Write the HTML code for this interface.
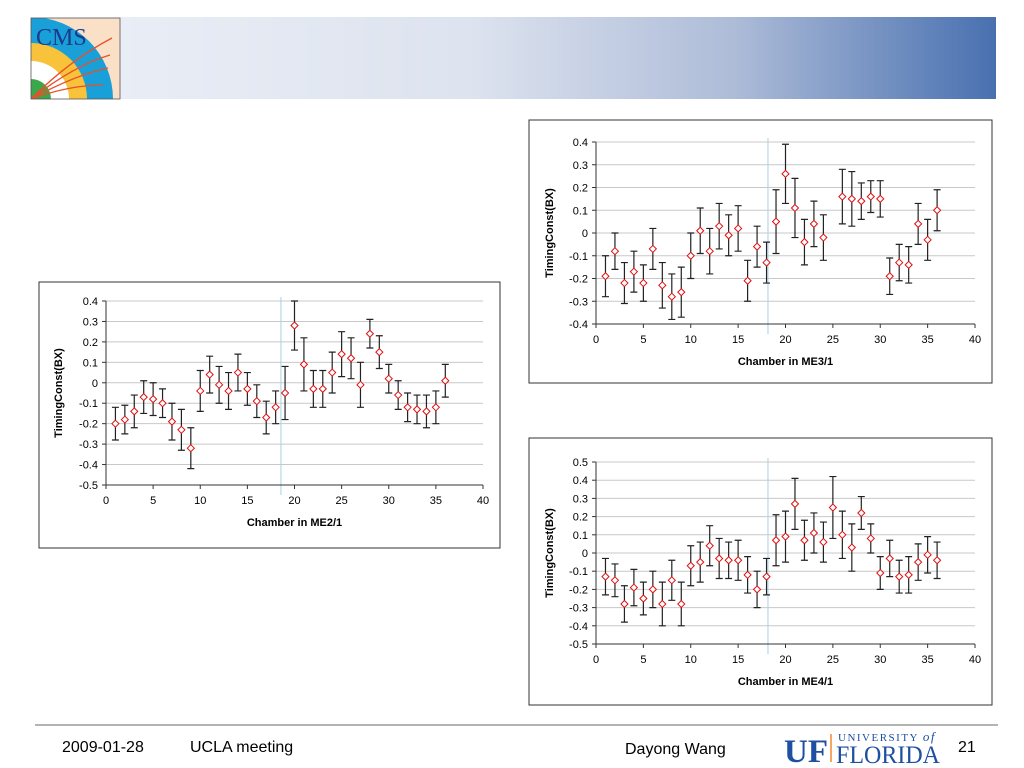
<!DOCTYPE html>
<html><head><meta charset="utf-8"><style>
body{margin:0;background:#fff;font-family:"Liberation Sans",Arial,sans-serif;}
#root{position:relative;width:1024px;height:768px;overflow:hidden;}
.ft{position:absolute;font-size:16px;color:#000;}
</style></head><body><div id="root">
<svg width="1024" height="768" style="position:absolute;left:0;top:0">
<defs>
<linearGradient id="band" x1="0" x2="1" y1="0" y2="0">
<stop offset="0" stop-color="#e9edf5"/><stop offset="0.4" stop-color="#dde3ef"/><stop offset="0.7" stop-color="#aebcd8"/><stop offset="1" stop-color="#4870b0"/></linearGradient>
<clipPath id="lc"><rect x="31" y="18" width="89" height="81"/></clipPath>
</defs>
<rect x="120" y="17" width="876" height="82" fill="url(#band)"/>
<g clip-path="url(#lc)">
<rect x="31" y="18" width="89" height="81" fill="#fbe0c8"/>
<circle cx="31" cy="99" r="82" fill="#1aa0d8"/>
<circle cx="31" cy="99" r="56" fill="#f8c23a"/>
<circle cx="31" cy="99" r="38" fill="#fff"/>
<circle cx="31" cy="99" r="20" fill="#3aa84a"/>
<text x="36" y="45" font-family="Liberation Serif,serif" font-size="24" fill="#1a3a8a">CMS</text>
<path d="M31 99 Q70 60 112 38 M31 99 Q75 65 110 55 M31 99 Q75 75 108 68 M31 99 Q70 85 103 85" stroke="#e8502a" stroke-width="1.3" fill="none"/>
</g>
<rect x="31" y="18" width="89" height="81" fill="none" stroke="#555" stroke-width="0.8"/>
<line x1="35" y1="725" x2="998" y2="725" stroke="#888" stroke-width="1.2"/>
<g id="charts"></g>
<g>
<text x="784" y="762" font-family="Liberation Serif,serif" font-weight="bold" font-size="33" fill="#1f4fa0" textLength="44" lengthAdjust="spacingAndGlyphs">UF</text>
<line x1="831" y1="734" x2="831" y2="762" stroke="#f08a30" stroke-width="1.5"/>
<text x="838" y="741" font-family="Liberation Serif,serif" font-size="11" fill="#1f4fa0" letter-spacing="1.5">UNIVERSITY <tspan font-style="italic" font-size="13">of</tspan></text>
<text x="836" y="763" font-family="Liberation Serif,serif" font-size="25" fill="#1f4fa0" textLength="104" lengthAdjust="spacingAndGlyphs">FLORIDA</text>
</g>
</svg>
<div class="ft" style="left:62px;top:739px">2009-01-28</div>
<div class="ft" style="left:190px;top:739px">UCLA meeting</div>
<div class="ft" style="left:625px;top:741px">Dayong Wang</div>
<div class="ft" style="left:958px;top:739px">21</div>
</div>
<script>
// ME2/1
const me2Chambers=[1,2,3,4,5,6,7,8,9,10,11,12,13,14,15,16,17,18,19,20,21,22,23,24,25,26,27,28,29,30,31,32,33,34,35,36];
const me2Mean=[-0.2,-0.18,-0.14,-0.07,-0.08,-0.1,-0.19,-0.23,-0.32,-0.04,0.04,-0.01,-0.04,0.05,-0.03,-0.09,-0.17,-0.12,-0.05,0.28,0.09,-0.03,-0.03,0.05,0.14,0.12,-0.01,0.24,0.15,0.02,-0.06,-0.12,-0.13,-0.14,-0.12,0.01];
const me2Err=[0.08,0.07,0.08,0.08,0.08,0.07,0.09,0.1,0.1,0.1,0.09,0.09,0.09,0.09,0.08,0.08,0.08,0.08,0.13,0.12,0.13,0.09,0.09,0.1,0.11,0.1,0.11,0.07,0.08,0.07,0.07,0.07,0.07,0.08,0.08,0.08];
// ME3/1
const me3Chambers=[1,2,3,4,5,6,7,8,9,10,11,12,13,14,15,16,17,18,19,20,21,22,23,24,26,27,28,29,30,31,32,33,34,35,36];
const me3Mean=[-0.19,-0.08,-0.22,-0.17,-0.22,-0.07,-0.23,-0.28,-0.26,-0.1,0.01,-0.08,0.03,-0.01,0.02,-0.21,-0.06,-0.13,0.05,0.26,0.11,-0.04,0.04,-0.02,0.16,0.15,0.14,0.16,0.15,-0.19,-0.13,-0.14,0.04,-0.03,0.1];
const me3Err=[0.09,0.08,0.09,0.09,0.08,0.09,0.1,0.1,0.11,0.1,0.1,0.1,0.1,0.09,0.1,0.09,0.09,0.09,0.14,0.13,0.13,0.1,0.1,0.1,0.12,0.12,0.08,0.07,0.08,0.08,0.08,0.08,0.09,0.09,0.09];
// ME4/1
const me4Chambers=[1,2,3,4,5,6,7,8,9,10,11,12,13,14,15,16,17,18,19,20,21,22,23,24,25,26,27,28,29,30,31,32,33,34,35,36];
const me4Mean=[-0.13,-0.15,-0.28,-0.19,-0.25,-0.2,-0.28,-0.15,-0.28,-0.07,-0.05,0.04,-0.03,-0.04,-0.04,-0.12,-0.2,-0.13,0.07,0.09,0.27,0.07,0.11,0.06,0.25,0.1,0.03,0.22,0.08,-0.11,-0.03,-0.13,-0.12,-0.05,-0.01,-0.04];
const me4Err=[0.1,0.09,0.1,0.1,0.09,0.1,0.12,0.11,0.12,0.11,0.11,0.11,0.11,0.1,0.11,0.1,0.1,0.1,0.14,0.14,0.14,0.11,0.11,0.11,0.17,0.13,0.13,0.09,0.08,0.09,0.1,0.09,0.1,0.1,0.1,0.1];
const me2YTicks=[0.4,0.3,0.2,0.1,0,-0.1,-0.2,-0.3,-0.4,-0.5];
const me3YTicks=[0.4,0.3,0.2,0.1,0,-0.1,-0.2,-0.3,-0.4];
const me4YTicks=[0.5,0.4,0.3,0.2,0.1,0,-0.1,-0.2,-0.3,-0.4,-0.5];
const xTicks=[0,5,10,15,20,25,30,35,40];

const NS='http://www.w3.org/2000/svg';
const root=document.getElementById('charts');
function mk(tag,at,parent){const e=document.createElementNS(NS,tag);for(const k in at)e.setAttribute(k,at[k]);parent.appendChild(e);return e;}
function fmt(v){return (Math.round(v*10)/10).toString();}
function chart(cfg){
  const g=mk('g',{},root);
  
  
  const box=mk('rect',{x:cfg.box[0],y:cfg.box[1],width:cfg.box[2],height:cfg.box[3],fill:'#fff',stroke:'#333','stroke-width':1},g);
  
  
  const yMax=cfg.yt[0],yMin=cfg.yt[cfg.yt.length-1];
  const sx=v=>cfg.x0+(v-0)/40*(cfg.x1-cfg.x0);
  const sy=v=>cfg.yTop+(yMax-v)/(yMax-yMin)*(cfg.yBot-cfg.yTop);
  cfg.yt.forEach(t=>{
    const y=sy(t);
    const gl=mk('line',{x1:cfg.x0,x2:cfg.x1,y1:y,y2:y,stroke:'#c8c8c8','stroke-width':1},g);
    
    
    mk('line',{x1:cfg.x0-4,x2:cfg.x0,y1:y,y2:y,stroke:'#333'},g);
    const tl=mk('text',{x:cfg.x0-8,y:y+4,'text-anchor':'end','font-size':11,fill:'#000'},g);
    tl.textContent=fmt(t);
    
    
  });
  const vl=mk('line',{x1:sx(cfg.vline),x2:sx(cfg.vline),y1:cfg.yTop-4,y2:cfg.yBot+10,stroke:'#a8d0e8','stroke-width':1},g);
  
  
  mk('line',{x1:cfg.x0,x2:cfg.x0,y1:cfg.yTop,y2:cfg.yBot,stroke:'#333'},g);
  mk('line',{x1:cfg.x0,x2:cfg.x1,y1:cfg.yBot,y2:cfg.yBot,stroke:'#333'},g);
  xTicks.forEach(t=>{
    const x=sx(t);
    mk('line',{x1:x,x2:x,y1:cfg.yBot,y2:cfg.yBot+4,stroke:'#333'},g);
    const tl=mk('text',{x:x,y:cfg.yBot+19,'text-anchor':'middle','font-size':11,fill:'#000'},g);
    tl.textContent=t;
    
    
  });
  const xt=mk('text',{x:(cfg.x0+cfg.x1)/2,y:cfg.yBot+41,'text-anchor':'middle','font-size':11,'font-weight':'bold'},g);
  xt.textContent=cfg.xtitle;
  
  
  const ym=(cfg.yTop+cfg.yBot)/2;
  const yt=mk('text',{x:cfg.ytx,y:ym,'text-anchor':'middle','font-size':11,'font-weight':'bold',transform:`rotate(-90 ${cfg.ytx} ${ym})`},g);
  yt.textContent='TimingConst(BX)';
  
  
  cfg.cx.forEach((c,i)=>{
    const x=sx(c),m=cfg.mean[i],e=cfg.err[i];
    const yh=sy(m+e),yl=sy(m-e),y=sy(m);
    const eb=mk('path',{d:`M${x} ${yh}V${yl}M${x-3.5} ${yh}H${x+3.5}M${x-3.5} ${yl}H${x+3.5}`,stroke:'#222','stroke-width':1.2,fill:'none'},g);
    
    
    const pt=mk('path',{d:`M${x} ${y-3.5}L${x+3.5} ${y}L${x} ${y+3.5}L${x-3.5} ${y}Z`,stroke:'#e01010','stroke-width':1,fill:'#fff'},g);
    
    
  });
}
chart({name:'chart-me2',box:[39,282,461,266],x0:106,x1:483,yTop:301,yBot:485,yt:me2YTicks,cx:me2Chambers,mean:me2Mean,err:me2Err,vline:18.56,xtitle:'Chamber in ME2/1',ytx:62});
chart({name:'chart-me3',box:[529,120,463,263],x0:596,x1:975,yTop:142,yBot:324,yt:me3YTicks,cx:me3Chambers,mean:me3Mean,err:me3Err,vline:18.15,xtitle:'Chamber in ME3/1',ytx:553});
chart({name:'chart-me4',box:[529,438,463,267],x0:596,x1:975,yTop:462,yBot:644,yt:me4YTicks,cx:me4Chambers,mean:me4Mean,err:me4Err,vline:18.15,xtitle:'Chamber in ME4/1',ytx:553});
</script>
</body></html>
